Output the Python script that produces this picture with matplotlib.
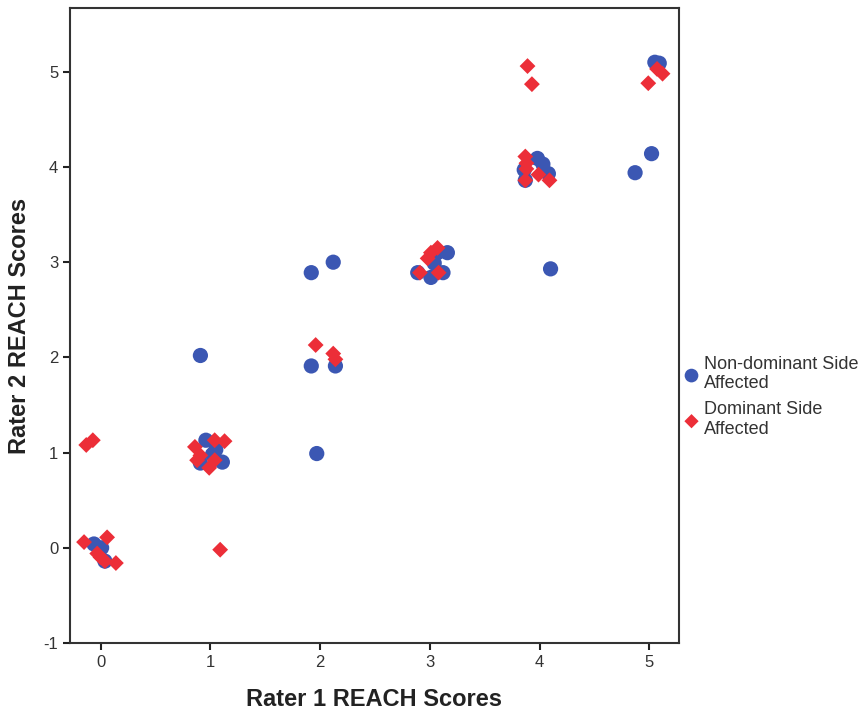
import matplotlib
matplotlib.use("Agg")
import matplotlib.pyplot as plt

plt.rcParams['font.family'] = ['Liberation Sans', 'DejaVu Sans']
plt.rcParams['axes.unicode_minus'] = False

# Non-dominant side affected (blue circles)
nd_x = [-0.06, 0.01, 0.04,
        0.96, 0.91, 1.02, 1.11, 1.05,
        0.91,
        1.92, 2.12, 1.92, 2.14, 1.97,
        2.89, 3.01, 3.12, 3.16, 3.07, 3.04,
        3.98, 4.03, 4.08, 3.86, 3.87, 4.10,
        5.05, 5.09, 5.02, 4.87]
nd_y = [0.04, 0.00, -0.14,
        1.13, 0.89, 0.98, 0.90, 1.03,
        2.02,
        2.89, 3.00, 1.91, 1.91, 0.99,
        2.89, 2.84, 2.89, 3.10, 3.10, 2.99,
        4.09, 4.03, 3.93, 3.97, 3.86, 2.93,
        5.10, 5.09, 4.14, 3.94]

# Dominant side affected (red diamonds)
d_x = [-0.15, 0.06, -0.03, 0.00, 0.04, 0.14,
       -0.13, -0.07,
       0.86, 1.04, 1.13, 0.88, 0.99, 1.04, 0.91,
       1.09,
       1.96, 2.12, 2.14,
       3.01, 3.07, 2.91, 3.08, 2.98,
       3.89, 3.93, 3.87, 3.88, 3.88, 3.99, 4.09, 3.87,
       4.99, 5.07, 5.12]
d_y = [0.06, 0.11, -0.06, -0.10, -0.14, -0.16,
       1.08, 1.13,
       1.06, 1.13, 1.12, 0.92, 0.84, 0.92, 0.97,
       -0.02,
       2.13, 2.04, 1.98,
       3.10, 3.15, 2.89, 2.89, 3.04,
       5.06, 4.87, 4.11, 4.04, 3.98, 3.92, 3.86, 3.86,
       4.88, 5.03, 4.98]

x_ticks = [0, 1, 2, 3, 4, 5]
y_ticks = [-1, 0, 1, 2, 3, 4, 5]

blue = '#3B57B3'
red = '#EC2E38'

fig = plt.figure(figsize=(8.67, 7.12), dpi=100)
ax = fig.add_axes([70/867, (712-643)/712, (679-70)/867, (643-8)/712])

ax.scatter(nd_x, nd_y, s=120, marker='o', color=blue, edgecolors='none',
           label='Non-dominant Side\nAffected', zorder=3)
ax.scatter(d_x, d_y, s=65, marker='D', color=red, edgecolors='none',
           label='Dominant Side\nAffected', zorder=4)

ax.set_xlim(-0.278, 5.27)
ax.set_ylim(-1, 5.67)
ax.set_xticks(x_ticks)
ax.set_yticks(y_ticks)
ax.tick_params(direction='out', length=5, width=1.5, colors='#222222',
               labelsize=12, labelcolor='#333333')
for sp in ax.spines.values():
    sp.set_linewidth(1.5)
    sp.set_color('#333333')

ax.set_xlabel('Rater 1 REACH Scores', fontsize=17, fontweight='bold', labelpad=13,
              color='#222222')
ax.set_ylabel('Rater 2 REACH Scores', fontsize=17, fontweight='bold', labelpad=9,
              color='#222222')

leg = ax.legend(loc='center left', bbox_to_anchor=(0.982, 0.388), frameon=False,
                fontsize=13, handletextpad=0.1, borderpad=0.2, labelspacing=0.5,
                handlelength=1.2, markerscale=0.9)
for t in leg.get_texts():
    t.set_color('#333333')

fig.savefig('out.png', dpi=100)
